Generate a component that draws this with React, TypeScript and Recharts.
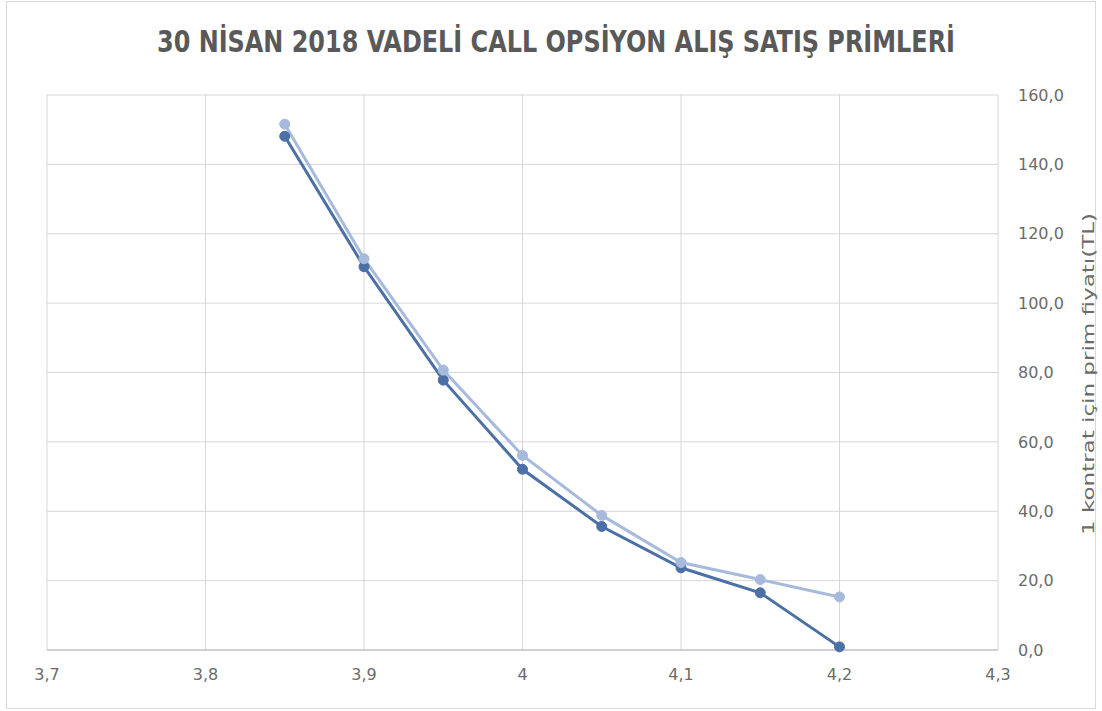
import React from 'react';
import { LineChart, Line, XAxis, YAxis, CartesianGrid } from 'recharts';

const strikes = [3.85, 3.9, 3.95, 4.0, 4.05, 4.1, 4.15, 4.2];
const alisPrim = [148.1, 110.5, 77.8, 52.1, 35.6, 23.7, 16.5, 0.9];
const satisPrim = [151.6, 112.8, 80.7, 56.1, 38.8, 25.2, 20.3, 15.3];
const xTicks = [3.7, 3.8, 3.9, 4.0, 4.1, 4.2, 4.3];
const yTicks = [0, 20, 40, 60, 80, 100, 120, 140, 160];
const titleText = '30 NİSAN 2018 VADELİ CALL OPSİYON ALIŞ SATIŞ PRİMLERİ';
const yAxisTitle = '1 kontrat için prim fiyatı(TL)';

const data = strikes.map((k, i) => ({ strike: k, alis: alisPrim[i], satis: satisPrim[i] }));

const fmtX = (v: number) => {
  const s = String(Math.round(v * 10) / 10);
  return s.replace('.', ',');
};
const fmtY = (v: number) => v.toFixed(1).replace('.', ',');

const tickStyle = { fill: '#6b6b6b', fontSize: 16, fontFamily: 'DejaVu Sans' };

export default function App() {
  return (
    <div style={{ position: 'absolute', left: 0, top: 0, width: 1102, height: 711, background: '#fff' }}>
      <div
        style={{
          position: 'absolute',
          left: 6,
          top: 1,
          width: 1090,
          height: 708,
          border: '1px solid #d9d9d9',
          boxSizing: 'border-box',
        }}
      />
      <div style={{ position: 'absolute', left: 0, top: 0 }}>
        <LineChart
          width={1102}
          height={711}
          data={data}
          margin={{ top: 95, right: 14, bottom: 31, left: 47 }}
          style={{ fontFamily: 'DejaVu Sans', fontSize: 16 }}
        >
          <CartesianGrid stroke="#d6d6d6" strokeWidth={1} />
          <XAxis
            dataKey="strike"
            type="number"
            domain={[3.7, 4.3]}
            ticks={xTicks}
            tickFormatter={fmtX}
            tick={tickStyle}
            fontSize={16}
            fontFamily="DejaVu Sans"
            tickLine={false}
            tickSize={0}
            tickMargin={19}
            height={30}
            axisLine={{ stroke: '#c8c8c8', strokeWidth: 1.5 }}
            interval={0}
            allowDataOverflow
          />
          <YAxis
            orientation="right"
            type="number"
            domain={[0, 160]}
            ticks={yTicks}
            tickFormatter={fmtY}
            tick={tickStyle}
            fontSize={16}
            fontFamily="DejaVu Sans"
            tickLine={false}
            tickSize={0}
            tickMargin={20}
            axisLine={false}
            width={90}
            interval={0}
          />
          <Line
            dataKey="alis"
            stroke="#4a70a6"
            strokeWidth={3}
            dot={{ r: 5, fill: '#4a70a6', stroke: '#4a70a6', strokeWidth: 1 }}
            isAnimationActive={false}
          />
          <Line
            dataKey="satis"
            stroke="#a7badb"
            strokeWidth={3}
            dot={{ r: 5, fill: '#a7badb', stroke: '#a7badb', strokeWidth: 1 }}
            isAnimationActive={false}
          />
        </LineChart>
      </div>
      <svg
        width={1102}
        height={711}
        style={{ position: 'absolute', left: 0, top: 0, pointerEvents: 'none' }}
      >
        <text
          x={0}
          y={0}
          transform="translate(556, 52)"
          textAnchor="middle"
          textLength={798}
          lengthAdjust="spacingAndGlyphs"
          fontFamily="DejaVu Sans Condensed"
          fontWeight="bold"
          fontSize={30}
          fill="#595959"
        >
          {titleText}
        </text>
        <text
          x={0}
          y={0}
          transform="translate(1094, 374) rotate(-90)"
          textAnchor="middle"
          textLength={322}
          lengthAdjust="spacingAndGlyphs"
          fontFamily="DejaVu Sans"
          fontSize={16}
          fill="#6b6b6b"
        >
          {yAxisTitle}
        </text>
      </svg>
    </div>
  );
}
